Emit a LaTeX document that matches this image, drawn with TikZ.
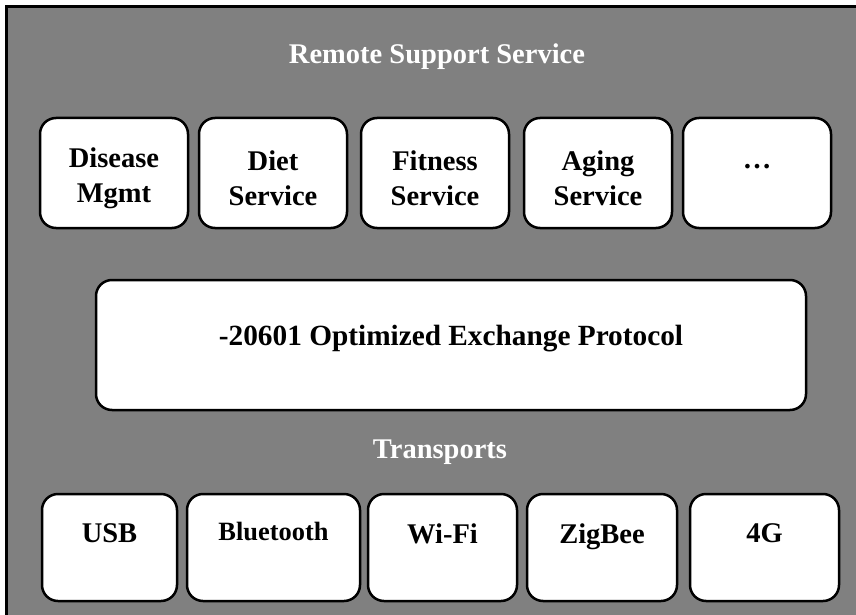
\documentclass[tikz,border=0pt]{standalone}
\usepackage{fontspec}
\setmainfont{Liberation Serif}
\usepackage{tikz}
\usetikzlibrary{positioning}
\definecolor{bggray}{RGB}{128,128,128}

\begin{document}
\begin{tikzpicture}[x=1pt,y=-1pt,font=\fontsize{28.5}{34.5}\selectfont\bfseries]
 \tikzstyle{box}=[draw=black,line width=2.5pt,fill=white,rounded corners=16pt,align=center,inner sep=0pt,outer sep=0pt]
 \tikzstyle{svc}=[box,minimum width=148pt,minimum height=110pt,text height=65pt]
 \tikzstyle{link}=[box,minimum height=107pt,text depth=28pt]
 \tikzstyle{title}=[text=white]
   \useasboundingbox (0,0) rectangle (856,615);
   \fill[white] (0,0) rectangle (856,615);
   \draw[line width=3pt,fill=bggray] (6.5,6.5) rectangle (880,640);
   \node[title] (rss) at (437,57) {Remote Support Service};
   \node[svc] (disease) at (114,173) {Disease\\Mgmt};
   \node[svc] (diet) [right=11pt of disease] {Diet\\Service};
   \node[svc] (fitness) [right=14pt of diet] {Fitness\\Service};
   \node[svc] (aging) [right=15pt of fitness] {Aging\\Service};
   \node[box,minimum width=148pt,minimum height=110pt,text depth=14pt] (more) [right=11pt of aging] {…};
   \node[box,minimum width=710pt,minimum height=130pt,text depth=20pt,font=\fontsize{29.3}{35}\selectfont\bfseries] (proto) at (451,345) {-20601 Optimized Exchange Protocol};
   \node[title] (trans) at (440,452) {Transports};
   \node[link,minimum width=135pt] (usb) at (109.5,547.5) {USB};
   \node[link,minimum width=173pt,text depth=33pt,font=\fontsize{26.4}{32}\selectfont\bfseries] (bt) [right=10pt of usb] {Bluetooth};
   \node[link,minimum width=149pt] (wifi) [right=8pt of bt] {Wi-Fi};
   \node[link,minimum width=150pt] (zigbee) [right=10pt of wifi] {ZigBee};
   \node[link,minimum width=149pt] (lte) [right=13pt of zigbee] {4G};
\end{tikzpicture}
\end{document}
